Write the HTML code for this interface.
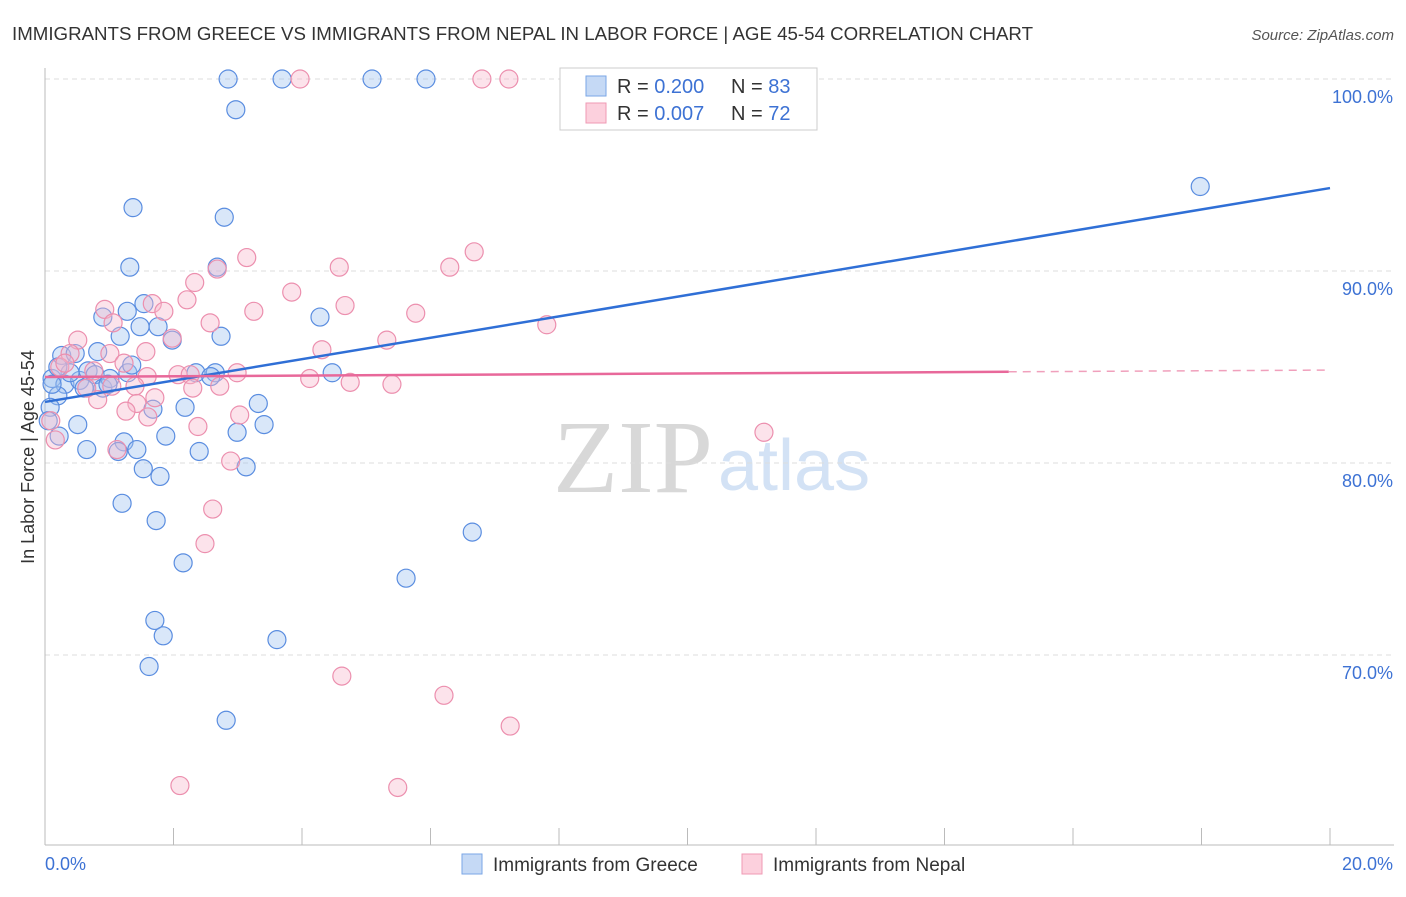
<!DOCTYPE html>
<html><head><meta charset="utf-8"><style>
body{margin:0;background:#fff;font-family:"Liberation Sans",sans-serif;}
svg text{font-family:"Liberation Sans",sans-serif;}
</style></head><body>
<svg id="chart" width="1406" height="892" xmlns="http://www.w3.org/2000/svg">
<text x="12" y="40" font-size="18" fill="#333" textLength="1021" lengthAdjust="spacingAndGlyphs">IMMIGRANTS FROM GREECE VS IMMIGRANTS FROM NEPAL IN LABOR FORCE | AGE 45-54 CORRELATION CHART</text>
<text x="1394" y="40" font-size="15" fill="#555" text-anchor="end" font-style="italic">Source: ZipAtlas.com</text>
<g>
<text x="553" y="492" font-size="104" fill="#d8d8d8" style="font-family:'Liberation Serif',serif" textLength="160" lengthAdjust="spacingAndGlyphs">ZIP</text>
<text x="718" y="490" font-size="72" fill="#d3e2f5">atlas</text>
</g>
<g id="grid"></g>
<g id="axes"></g>
<g id="pts"></g>
<g id="trend"></g>
<text transform="translate(34,457) rotate(-90)" font-size="18" fill="#333" text-anchor="middle">In Labor Force | Age 45-54</text>
<g>
<rect x="560" y="68" width="257" height="62" fill="#fff" stroke="#ccc"/>
<rect x="586" y="76" width="20" height="20" fill="#c5d9f5" stroke="#7aa6e6"/>
<rect x="586" y="103" width="20" height="20" fill="#fcd0dd" stroke="#ef9ab4"/>
<text x="617" y="93" font-size="20" fill="#333">R = <tspan fill="#3d72d4">0.200</tspan></text>
<text x="731" y="93" font-size="20" fill="#333">N = <tspan fill="#3d72d4">83</tspan></text>
<text x="617" y="120" font-size="20" fill="#333">R = <tspan fill="#3d72d4">0.007</tspan></text>
<text x="731" y="120" font-size="20" fill="#333">N = <tspan fill="#3d72d4">72</tspan></text>
</g>
<g>
<rect x="462" y="854" width="20" height="20" fill="#c5d9f5" stroke="#7aa6e6"/>
<text x="493" y="871" font-size="19" fill="#333">Immigrants from Greece</text>
<rect x="742" y="854" width="20" height="20" fill="#fcd0dd" stroke="#ef9ab4"/>
<text x="773" y="871" font-size="19" fill="#333">Immigrants from Nepal</text>
</g>
</svg>
<script>
const xTicks=[0,2,4,6,8,10,12,14,16,18,20];
const yTicks=[70,80,90,100];
const greeceX=[2.85,3.69,5.09,5.93,2.97,17.98,1.37,2.79,1.32,2.68,0.90,1.28,1.54,1.76,1.48,1.17,1.98,2.74,4.28,0.26,0.82,0.47,0.11,0.31,0.54,0.67,0.78,0.90,1.01,1.29,1.35,2.35,2.65,2.58,4.47,0.20,0.08,1.68,2.18,3.32,0.51,0.22,0.65,1.23,1.43,1.88,2.99,3.41,2.40,1.14,1.53,1.79,3.13,1.20,1.73,6.65,2.15,5.62,1.71,1.84,3.61,1.62,2.82,0.11,0.05,0.39,0.61,0.98,0.20];
const greeceY=[100,100,100,100,98.4,94.4,93.3,92.8,90.2,90.2,87.6,87.9,88.3,87.1,87.1,86.6,86.4,86.6,87.6,85.6,85.8,85.7,84.4,84.1,84.3,84.8,84.6,83.9,84.4,84.7,85.1,84.7,84.7,84.5,84.7,83.5,82.9,82.8,82.9,83.1,82.0,81.4,80.7,81.1,80.7,81.4,81.6,82.0,80.6,80.6,79.7,79.3,79.8,77.9,77.0,76.4,74.8,74.0,71.8,71.0,70.8,69.4,66.6,84.1,82.2,84.7,83.9,84.1,85.0];
const nepalX=[3.97,6.80,7.22,6.68,3.14,6.30,2.68,4.58,2.33,3.84,2.21,4.67,0.93,1.67,3.25,5.77,7.81,2.57,1.06,1.85,1.98,5.32,0.51,0.39,1.01,1.57,4.31,1.23,0.23,0.76,2.07,1.59,2.26,2.99,4.12,4.75,5.40,2.72,1.04,1.40,2.30,0.82,1.71,1.43,1.26,1.60,3.03,2.38,0.09,0.16,1.12,2.89,2.61,2.49,11.19,4.62,6.21,7.24,2.10,5.49,0.65,0.31];
const nepalY=[100,100,100,91.0,90.7,90.2,90.1,90.2,89.4,88.9,88.5,88.2,88.0,88.3,87.9,87.8,87.2,87.3,87.3,87.9,86.5,86.4,86.4,85.7,85.7,85.8,85.9,85.2,85.0,84.8,84.6,84.5,84.6,84.7,84.4,84.2,84.1,84.0,84.0,84.0,83.9,83.3,83.4,83.1,82.7,82.4,82.5,81.9,82.2,81.2,80.7,80.1,77.6,75.8,81.6,68.9,67.9,66.3,63.2,63.1,83.9,85.2];
const greeceTrend=[83.18,94.32];
const nepalTrend=[84.48,84.84];
const NS="http://www.w3.org/2000/svg";
const X=v=>45+v*64.25, Y=v=>79+(100-v)*19.2;
function mk(tag,attrs,parent){const e=document.createElementNS(NS,tag);for(const k in attrs)e.setAttribute(k,attrs[k]);document.getElementById(parent).appendChild(e);return e;}
yTicks.forEach(t=>{
 const l=mk('line',{x1:45,x2:1394,y1:Y(t),y2:Y(t),stroke:'#ddd','stroke-dasharray':'5,4'},'grid');
 
 
 const tx=mk('text',{x:1393,y:Y(t)+24,'font-size':18,fill:'#3d72d4','text-anchor':'end'},'axes');
 tx.textContent=t.toFixed(1)+'%';
 
 
});
const ax=mk('line',{x1:45,x2:45,y1:68,y2:845,stroke:'#bbb'},'axes');


const bx=mk('line',{x1:45,x2:1394,y1:845,y2:845,stroke:'#bbb'},'axes');


xTicks.forEach(t=>{
 const l=mk('line',{x1:X(t),x2:X(t),y1:828,y2:845,stroke:'#bbb'},'axes');
 
 
});
[[0,'start'],[20,'end']].forEach(([t,a])=>{
 const tx=mk('text',{x:X(t)+(t==0?0:63),y:870,'font-size':18,fill:'#3d72d4','text-anchor':a},'axes');
 tx.textContent=t.toFixed(1)+'%';
 
 
});
greeceX.forEach((v,i)=>{
 const c=mk('circle',{cx:X(v),cy:Y(greeceY[i]),r:9,fill:'rgba(160,195,240,0.4)',stroke:'#5a8de0','stroke-width':1.2},'pts');
 
 
});
nepalX.forEach((v,i)=>{
 const c=mk('circle',{cx:X(v),cy:Y(nepalY[i]),r:9,fill:'rgba(248,185,205,0.4)',stroke:'#ec8fae','stroke-width':1.2},'pts');
 
 
});
const gl=mk('line',{x1:X(0),y1:Y(greeceTrend[0]),x2:X(20),y2:Y(greeceTrend[1]),stroke:'#2f6fd6','stroke-width':2.5},'trend');


const pm=nepalTrend[0]+(nepalTrend[1]-nepalTrend[0])*0.75;
const pl=mk('line',{x1:X(0),y1:Y(nepalTrend[0]),x2:X(15),y2:Y(pm),stroke:'#e8689a','stroke-width':2.5},'trend');


const pd=mk('line',{x1:X(15),y1:Y(pm),x2:X(20),y2:Y(nepalTrend[1]),stroke:'#f0a0bc','stroke-width':1.5,'stroke-dasharray':'8,6'},'trend');


</script>
</body></html>
